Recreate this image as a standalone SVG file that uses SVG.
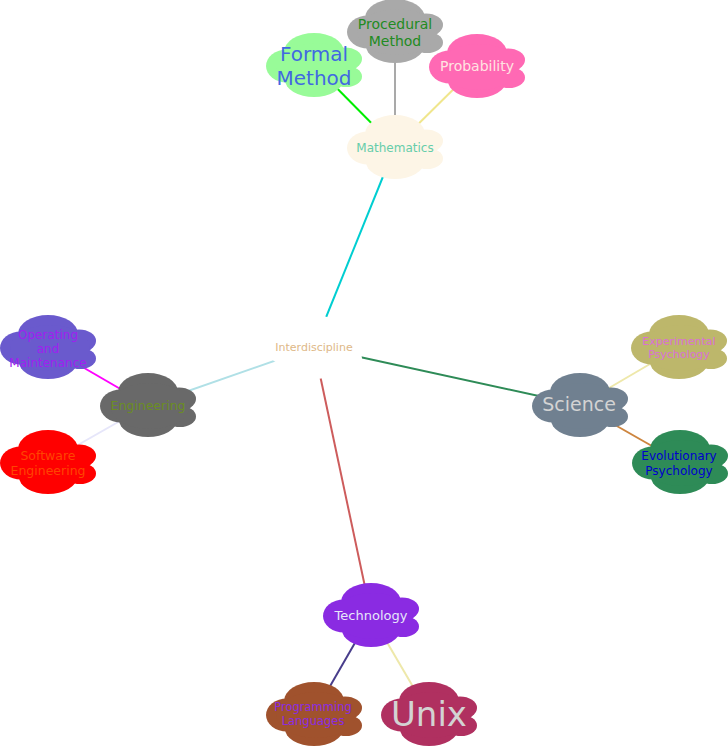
<svg xmlns="http://www.w3.org/2000/svg" xmlns:xlink="http://www.w3.org/1999/xlink" width="728" height="747" viewBox="0 0 728 747">
<style>
text{font-family:"DejaVu Sans","Liberation Sans",sans-serif;text-anchor:middle}
.c line{stroke-width:2;fill:none}
</style>
<defs>
<g id="cloud">
<ellipse cx="48" cy="19" rx="30" ry="19"/>
<ellipse cx="21" cy="33" rx="21" ry="16.5"/>
<ellipse cx="79" cy="26" rx="17" ry="11.5"/>
<ellipse cx="80" cy="43.5" rx="16" ry="10.5"/>
<ellipse cx="48" cy="47" rx="29" ry="17"/>
<ellipse cx="50" cy="33" rx="40" ry="23"/>
</g>
</defs>
<rect width="728" height="747" fill="#fff"/>
<g id="connectors" class="c">
<line x1="314" y1="347" x2="395" y2="147" stroke="#00CED1"/>
<line x1="314" y1="347" x2="148" y2="405" stroke="#B0E0E6"/>
<line x1="314" y1="347" x2="580" y2="405" stroke="#2E8B57"/>
<line x1="314" y1="347" x2="371" y2="615" stroke="#CD5C5C"/>
<line x1="395" y1="147" x2="314" y2="65" stroke="#00EE00"/>
<line x1="395" y1="147" x2="395" y2="31" stroke="#A9A9A9"/>
<line x1="395" y1="147" x2="477" y2="66" stroke="#F0E68C"/>
<line x1="148" y1="405" x2="48" y2="347" stroke="#FF00FF"/>
<line x1="148" y1="405" x2="48" y2="462" stroke="#E6E6FA"/>
<line x1="580" y1="405" x2="679" y2="347" stroke="#EEE8AA"/>
<line x1="580" y1="405" x2="680" y2="462" stroke="#CD853F"/>
<line x1="371" y1="615" x2="314" y2="714" stroke="#483D8B"/>
<line x1="371" y1="615" x2="429" y2="714" stroke="#EEE8AA"/>
</g>
<g id="interdiscipline">
<use xlink:href="#cloud" x="266" y="315" fill="#FFFFFF"/>
<text x="314" y="351" font-size="11" fill="#DEB887">Interdiscipline</text>
</g>
<g id="mathematics">
<use xlink:href="#cloud" x="347" y="115" fill="#FDF5E6"/>
<text x="395" y="152" font-size="12" fill="#66CDAA">Mathematics</text>
</g>
<g id="formal-method">
<use xlink:href="#cloud" x="266" y="33" fill="#98FB98"/>
<text x="314" y="61" font-size="20" fill="#4169E1">Formal</text>
<text x="314" y="85" font-size="20" fill="#4169E1">Method</text>
</g>
<g id="procedural-method">
<use xlink:href="#cloud" x="347" y="-1" fill="#A9A9A9"/>
<text x="395" y="29" font-size="14" fill="#228B22">Procedural</text>
<text x="395" y="46" font-size="14" fill="#228B22">Method</text>
</g>
<g id="probability">
<use xlink:href="#cloud" x="429" y="34" fill="#FF69B4"/>
<text x="477" y="71" font-size="14" fill="#FFE4E1">Probability</text>
</g>
<g id="engineering">
<use xlink:href="#cloud" x="100" y="373" fill="#696969"/>
<text x="148" y="410" font-size="12.5" fill="#6B8E23">Engineering</text>
</g>
<g id="operating-and-maintenance">
<use xlink:href="#cloud" x="0" y="315" fill="#6A5ACD"/>
<text x="48" y="339" font-size="12" fill="#A020F0">Operating</text>
<text x="48" y="353" font-size="12" fill="#A020F0">and</text>
<text x="48" y="367" font-size="12" fill="#A020F0">Maintenance</text>
</g>
<g id="software-engineering">
<use xlink:href="#cloud" x="0" y="430" fill="#FF0000"/>
<text x="48" y="460" font-size="12.5" fill="#FF4500">Software</text>
<text x="48" y="475" font-size="12.5" fill="#FF4500">Engineering</text>
</g>
<g id="science">
<use xlink:href="#cloud" x="532" y="373" fill="#708090"/>
<text x="579" y="411" font-size="19" fill="#D3D3D3">Science</text>
</g>
<g id="experimental-psychology">
<use xlink:href="#cloud" x="631" y="315" fill="#BDB76B"/>
<text x="679" y="345" font-size="11" fill="#DA70D6">Experimental</text>
<text x="679" y="358" font-size="11" fill="#DA70D6">Psychology</text>
</g>
<g id="evolutionary-psychology">
<use xlink:href="#cloud" x="632" y="430" fill="#2E8B57"/>
<text x="679" y="460" font-size="12" fill="#0000CD">Evolutionary</text>
<text x="679" y="475" font-size="12" fill="#0000CD">Psychology</text>
</g>
<g id="technology">
<use xlink:href="#cloud" x="323" y="583" fill="#8A2BE2"/>
<text x="371" y="620" font-size="13" fill="#E6E6FA">Technology</text>
</g>
<g id="programming-languages">
<use xlink:href="#cloud" x="266" y="682" fill="#A0522D"/>
<text x="313" y="711" font-size="11.5" fill="#8A2BE2">Programming</text>
<text x="313" y="725" font-size="11.5" fill="#8A2BE2">Languages</text>
</g>
<g id="unix">
<use xlink:href="#cloud" x="381" y="682" fill="#B03060"/>
<text x="429" y="726" font-size="34" fill="#D3D3D3">Unix</text>
</g>
</svg>
